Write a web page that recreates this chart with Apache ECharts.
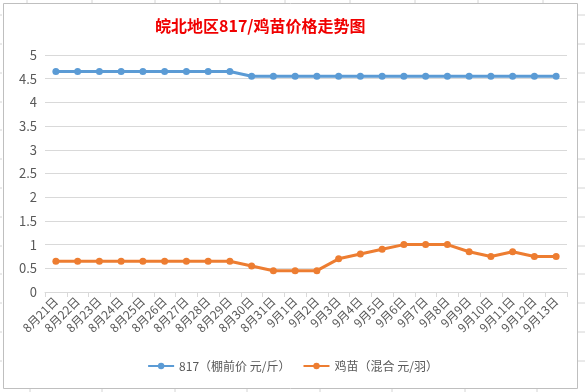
<!DOCTYPE html>
<html><head><meta charset="utf-8">
<script src="https://cdn.jsdelivr.net/npm/echarts@6/dist/echarts.min.js"></script>
<style>html,body{margin:0;padding:0;background:#fff}#c{width:585px;height:392px}</style>
</head><body><div id="c"></div>
<script>
const categories = ['8月21日','8月22日','8月23日','8月24日','8月25日','8月26日','8月27日','8月28日','8月29日','8月30日','8月31日','9月1日','9月2日','9月3日','9月4日','9月5日','9月6日','9月7日','9月8日','9月9日','9月10日','9月11日','9月12日','9月13日'];
const price817 = [4.65,4.65,4.65,4.65,4.65,4.65,4.65,4.65,4.65,4.55,4.55,4.55,4.55,4.55,4.55,4.55,4.55,4.55,4.55,4.55,4.55,4.55,4.55,4.55];
const chickPrice = [0.65,0.65,0.65,0.65,0.65,0.65,0.65,0.65,0.65,0.55,0.45,0.45,0.45,0.7,0.8,0.9,1.0,1.0,1.0,0.85,0.75,0.85,0.75,0.75];
const seriesNames = ['817（棚前价 元/斤）','鸡苗（混合 元/羽）'];
const titleText = '皖北地区817/鸡苗价格走势图';

const font = '"Noto Sans CJK SC", "Microsoft YaHei", sans-serif';
const chart = echarts.init(document.getElementById('c'));
const cellLines = [];
[27,92,155,220,285,350,415,478,543].forEach(x=>cellLines.push({type:'line',shape:{x1:x,y1:0,x2:x,y2:3},style:{stroke:'#d4d4d4',lineWidth:1},silent:true}));
[30,102,175,247,320,392,465,537].forEach(x=>cellLines.push({type:'line',shape:{x1:x,y1:389,x2:x,y2:392},style:{stroke:'#d4d4d4',lineWidth:1},silent:true}));
[15,44,73,102,130,159,188,217,246,274,303,332,361].forEach(y=>{
  cellLines.push({type:'line',shape:{x1:578,y1:y,x2:585,y2:y},style:{stroke:'#d4d4d4',lineWidth:1},silent:true});
  cellLines.push({type:'line',shape:{x1:0,y1:y,x2:2,y2:y},style:{stroke:'#d4d4d4',lineWidth:1},silent:true});
});
chart.setOption({
  backgroundColor:'#fff',
  textStyle:{fontFamily:font},
  title:{text:titleText,left:150,top:13,textStyle:{color:'#f00000',fontSize:16,fontWeight:'bold',fontFamily:font}},
  graphic:[{type:'rect',shape:{x:3.5,y:3.5,width:574,height:385},style:{fill:null,stroke:'#bfbfbf',lineWidth:1},silent:true,z:-1}].concat(cellLines),
  legend:{bottom:15,left:'center',itemGap:12,itemWidth:26,itemHeight:8,textStyle:{color:'#595959',fontSize:12,fontFamily:font},data:seriesNames},
  grid:{left:45,right:18,top:55,bottom:100,containLabel:false},
  xAxis:{type:'category',data:categories,boundaryGap:true,
    axisLine:{lineStyle:{color:'#d9d9d9'}},
    axisTick:{show:true,alignWithLabel:false,length:5,lineStyle:{color:'#d9d9d9'}},
    axisLabel:{rotate:45,interval:0,color:'#595959',fontSize:12,margin:7,fontFamily:font}},
  yAxis:{type:'value',min:0,max:5,interval:0.5,
    axisLine:{show:false},axisTick:{show:false},
    splitLine:{lineStyle:{color:'#d9d9d9'}},
    axisLabel:{color:'#595959',fontSize:13,margin:8,fontFamily:font}},
  series:[
    {name:seriesNames[0],type:'line',data:price817,symbol:'circle',symbolSize:7,color:'#5b9bd5',lineStyle:{width:3,color:'#5b9bd5'},itemStyle:{color:'#5b9bd5'}},
    {name:seriesNames[1],type:'line',data:chickPrice,symbol:'circle',symbolSize:7,color:'#ed7d31',lineStyle:{width:3,color:'#ed7d31'},itemStyle:{color:'#ed7d31'}}
  ],
  animation:false
});
</script></body></html>
